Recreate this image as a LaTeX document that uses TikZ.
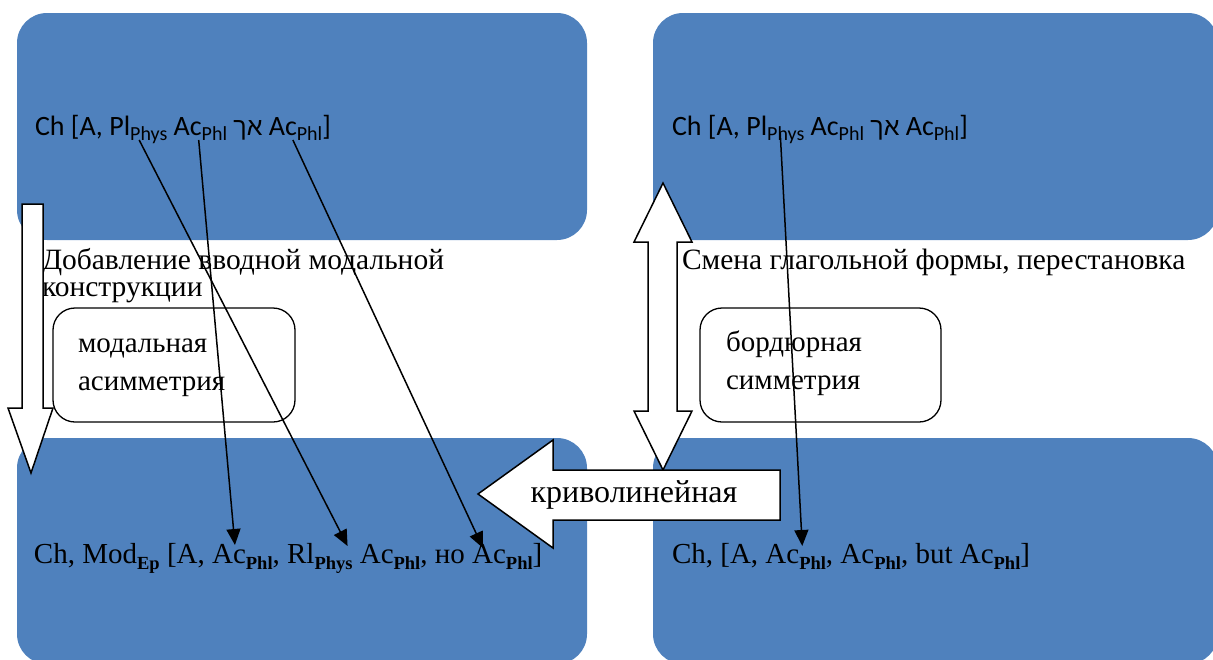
\documentclass[tikz,border=0pt]{standalone}
\usepackage{fontspec}
\setmainfont{Liberation Serif}
\newfontfamily\calibfont{Carlito}
\newfontfamily\hebfont[Script=Hebrew]{Liberation Sans}
\TeXXeTstate=1
\usetikzlibrary{arrows.meta}
\definecolor{panelblue}{HTML}{4F81BD}

\begin{document}
\begin{tikzpicture}[x=1pt,y=-1pt,
  panel/.style={fill=panelblue, draw=none, rounded corners=30pt},
  notebox/.style={draw=black, line width=1.3pt, fill=white, rounded corners=22pt},
  blockarrow/.style={draw=black, line width=1.5pt, fill=white, line join=miter},
  seg/.style={inner sep=0pt, outer sep=0pt, anchor=base west},
  topmain/.style={seg, font=\calibfont\fontsize{28}{32}\selectfont},
  topsub/.style={seg, font=\calibfont\fontsize{20}{22}\selectfont, yshift=-5pt},
  botmain/.style={seg, font=\fontsize{29}{32}\selectfont},
  botsub/.style={seg, font=\bfseries\fontsize{18.5}{20}\selectfont, yshift=-6pt},
  caption/.style={inner sep=0pt, outer sep=0pt, anchor=north west, align=left,
    font=\fontsize{29.5}{27}\selectfont},
  notetext/.style={inner sep=0pt, outer sep=0pt, anchor=north west, align=left,
    font=\fontsize{29}{38}\selectfont},
  link/.style={draw=black, line width=1.5pt, -{Triangle[length=16pt,width=14pt]}},
]
\useasboundingbox (0,0) rectangle (1213,659);
\clip (0,0) rectangle (1213,659);

% four blue panels
\path[panel] (17,13) rectangle (587,240);
\path[panel] (653,13) rectangle (1218,240);
\path[panel] (17,438) rectangle (587,664);
\path[panel] (653,438) rectangle (1218,664);

% upper left formula
\node[topmain] (tla) at (35,135) {Ch [A, Pl};
\node[topsub]  (tlb) at (tla.base east) {Phys};
\node[topmain] (tlc) at (tlb.east |- tla.base) {\ Ac};
\node[topsub]  (tld) at (tlc.base east) {Phl};
\node[topmain] (tle) at (tld.east |- tla.base) {\ {\hebfont\fontsize{25}{28}\selectfont\beginR אך\endR}\ Ac};
\node[topsub]  (tlf) at (tle.base east) {Phl};
\node[topmain] (tlg) at (tlf.east |- tla.base) {]};

% upper right formula
\node[topmain] (tra) at (672,135) {Ch [A, Pl};
\node[topsub]  (trb) at (tra.base east) {Phys};
\node[topmain] (trc) at (trb.east |- tra.base) {\ Ac};
\node[topsub]  (trd) at (trc.base east) {Phl};
\node[topmain] (tre) at (trd.east |- tra.base) {\ {\hebfont\fontsize{25}{28}\selectfont\beginR אך\endR}\ Ac};
\node[topsub]  (trf) at (tre.base east) {Phl};
\node[topmain] (trg) at (trf.east |- tra.base) {]};

% lower left formula
\node[botmain] (bla) at (34,563) {Ch, Mod};
\node[botsub]  (blb) at (bla.base east) {Ep};
\node[botmain] (blc) at (blb.east |- bla.base) {\ [A, Ac};
\node[botsub]  (bld) at (blc.base east) {Phl};
\node[botmain] (ble) at (bld.east |- bla.base) {, Rl};
\node[botsub]  (blf) at (ble.base east) {Phys};
\node[botmain] (blg) at (blf.east |- bla.base) {\ Ac};
\node[botsub]  (blh) at (blg.base east) {Phl};
\node[botmain] (bli) at (blh.east |- bla.base) {, но Ac};
\node[botsub]  (blj) at (bli.base east) {Phl};
\node[botmain] (blk) at (blj.east |- bla.base) {]};

% lower right formula
\node[botmain] (bra) at (672,563) {Ch, [A, Ac};
\node[botsub]  (brb) at (bra.base east) {Phl};
\node[botmain] (brc) at (brb.east |- bra.base) {, Ac};
\node[botsub]  (brd) at (brc.base east) {Phl};
\node[botmain] (bre) at (brd.east |- bra.base) {, but Ac};
\node[botsub]  (brf) at (bre.base east) {Phl};
\node[botmain] (brg) at (brf.east |- bra.base) {]};

% captions between the rows
\node[caption] (capl) at (42,248) {Добавление вводной модальной\\конструкции};
\node[caption] (capr) at (682,249) {Смена глагольной формы, перестановка};

% rounded note boxes
\path[notebox] (53,308) rectangle (295,422);
\node[notetext] (notel) at (78,339) {модальная\\асимметрия};
\path[notebox] (700,308) rectangle (941,422);
\node[notetext] (noter) at (726,331) {бордюрная\\симметрия};

% block arrows
\draw[blockarrow] (22,204) -- (43,204) -- (43,408) -- (53,408) -- (31,473)
  -- (8,408) -- (22,408) -- cycle;
\draw[blockarrow] (663,183) -- (692,242) -- (677,242) -- (677,411) -- (692,411)
  -- (663,470) -- (634,411) -- (648,411) -- (648,242) -- (634,242) -- cycle;
\draw[blockarrow] (780,470) -- (553,470) -- (553,440) -- (478,494) -- (553,548)
  -- (553,520) -- (780,520) -- cycle;
\node[font=\fontsize{32}{34}\selectfont, inner sep=0pt] (curv) at (634,495) {криволинейная};

% correspondence links
\draw[link] ([xshift=9pt]tlb.base west) -- ([xshift=-5pt,yshift=23pt]blf.base east);
\draw[link] ([xshift=-3pt]tld.base west) -- ([xshift=-11pt,yshift=18pt]blc.base east);
\draw[link] ([xshift=-4pt]tlf.base west) -- ([xshift=-23pt,yshift=15pt]bli.base east);
\draw[link] ([xshift=13pt,yshift=8pt]trb.base west) -- ([xshift=3pt,yshift=23pt]brb.base west);
\end{tikzpicture}
\end{document}
